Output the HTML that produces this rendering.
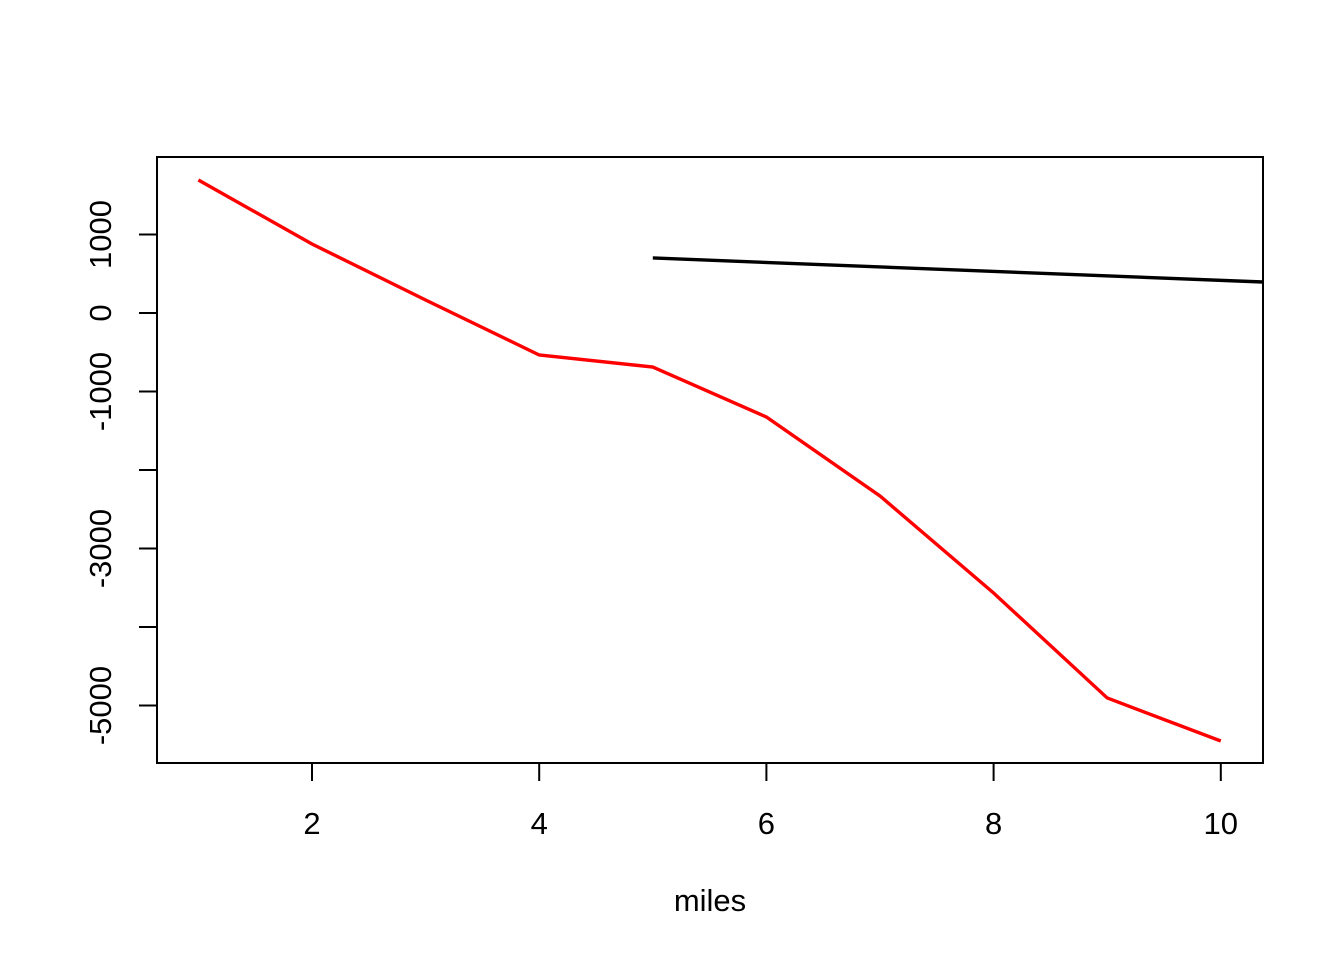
<!DOCTYPE html>
<html><head><meta charset="utf-8"><style>
body{margin:0;background:#fff}
svg text{font-family:"Liberation Sans",Arial,sans-serif;font-size:31px;fill:#000}
</style></head><body>
<svg width="1344" height="960">
<defs><clipPath id="pc"><rect x="157" y="157" width="1106" height="606"/></clipPath></defs>
<rect x="157" y="157" width="1106" height="606" fill="none" stroke="#000" stroke-width="2"/>
<g id="xax"></g>
<g id="yax"></g>
<g clip-path="url(#pc)" id="series"></g>
<text x="710" y="911" text-anchor="middle">miles</text>
</svg>
<script>
const redX=[1,2,3,4,5,6,7,8,9,10];
const redY=[1694,879,166,-535,-688,-1325,-2331,-3567,-4904,-5452];
const blackX=[5,11];
const blackY=[701,359];
const xTicks=[2,4,6,8,10];
const yTicks=[-5000,-4000,-3000,-2000,-1000,0,1000];
const yLabels=["-5000","","-3000","","-1000","0","1000"];
const NS="http://www.w3.org/2000/svg";
const sx=v=>312+(v-2)*113.6;
const sy=v=>313-v*0.0785;
function mk(t,a,p){const e=document.createElementNS(NS,t);for(const k in a)e.setAttribute(k,a[k]);p.appendChild(e);return e;}
const xa=document.getElementById('xax'),ya=document.getElementById('yax'),s=document.getElementById('series');
xTicks.forEach(v=>{
 const l=mk('line',{x1:sx(v),x2:sx(v),y1:763,y2:781,stroke:'#000','stroke-width':2},xa);
 
 
 const t=mk('text',{x:sx(v),y:834,'text-anchor':'middle'},xa);t.textContent=v;
 
 
});
mk('line',{x1:sx(2),x2:sx(10),y1:763,y2:763,stroke:'#000','stroke-width':2},xa);
yTicks.forEach((v,i)=>{
 const l=mk('line',{x1:139,x2:157,y1:sy(v),y2:sy(v),stroke:'#000','stroke-width':2},ya);
 
 
 if(yLabels[i]){const t=mk('text',{x:0,y:0,'text-anchor':'middle',transform:`translate(111,${sy(v)}) rotate(-90)`},ya);t.textContent=yLabels[i];
 
 }
});
mk('line',{x1:157,x2:157,y1:sy(-5000),y2:sy(1000),stroke:'#000','stroke-width':2},ya);
const r=mk('polyline',{points:redX.map((x,i)=>sx(x)+','+sy(redY[i])).join(' '),fill:'none',stroke:'#f00','stroke-width':3.4},s);


const b=mk('polyline',{points:blackX.map((x,i)=>sx(x)+','+sy(blackY[i])).join(' '),fill:'none',stroke:'#000','stroke-width':3.4},s);


</script>
</body></html>
